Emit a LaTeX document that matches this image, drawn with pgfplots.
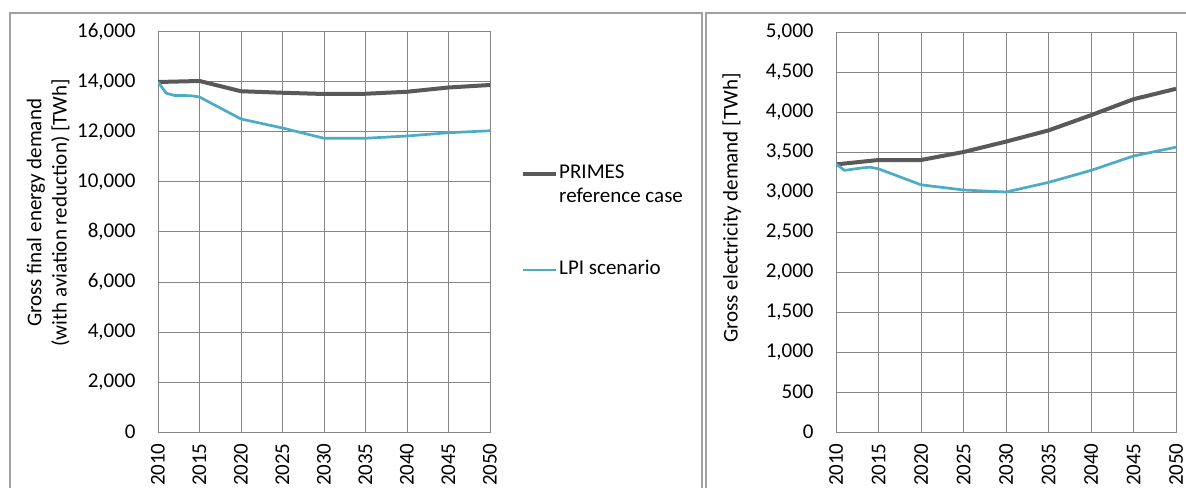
\documentclass[border=0pt]{standalone}
\usepackage{pgfplots}
\pgfplotsset{compat=1.18}
\usepackage{fontspec}
\setmainfont{Carlito}

\definecolor{gridgray}{RGB}{134,134,134}
\definecolor{framegray}{RGB}{160,160,160}
\definecolor{primes}{RGB}{89,89,89}
\definecolor{lpi}{RGB}{75,172,198}

\pgfplotsset{
  demand/.style={
    scale only axis,
    height=200pt,
    xmin=2010, xmax=2050,
    xtick distance=5,
    ymin=0,
    grid=major,
    grid style={gridgray, line width=0.5pt},
    axis line style={gridgray, line width=0.5pt},
    major tick length=0pt,
    tick style={draw=none},
    font=\fontsize{10.5}{12.6}\selectfont,
    /pgf/number format/assume math mode=true,
    scaled y ticks=false,
    yticklabel style={/pgf/number format/fixed, /pgf/number format/precision=0,
      /pgf/number format/1000 sep={,}, anchor=east, inner sep=0pt},
    xticklabel style={/pgf/number format/1000 sep=, rotate=90, anchor=east, inner sep=0pt},
    xticklabel shift=5.5pt,
    yticklabel shift=11pt,
    ylabel style={anchor=center, align=center},
  },
  primesline/.style={primes, line width=2pt, line join=round},
  lpiline/.style={lpi, line width=1.35pt, line join=round},
}

\begin{document}
\begin{tikzpicture}
\useasboundingbox (0,0) rectangle (593pt,243.5pt);
\clip (0,0) rectangle (593pt,243.5pt);

% chart frames
\draw[framegray, line width=0.6pt] (5pt,237pt) rectangle (351pt,-5pt);
\draw[framegray, line width=0.6pt] (353pt,237pt) rectangle (600pt,-5pt);

\begin{axis}[
  demand,
  at={(79pt,27.5pt)}, anchor=south west,
  width=166pt,
  ymax=16000, ytick distance=2000,
  ylabel={Gross final energy demand\\(with aviation reduction) [TWh]},
  ylabel style={at={(axis description cs:-0.331,0.548)}},
  legend style={
    at={(axis description cs:1.094,0.675)}, anchor=north west,
    draw=none, fill=none, inner sep=0pt, outer sep=0pt,
    row sep=0pt, column sep=0.5pt,
    nodes={inner sep=0pt, text height=8.5pt, text depth=3.5pt, anchor=west},
    font=\fontsize{10.5}{12.6}\selectfont,
  },
  legend image code/.code={\draw[#1] (0pt,0pt) -- (16.5pt,0pt);},
]
\addplot[primesline] coordinates {
  (2010,14000) (2015,14040) (2020,13630) (2025,13570) (2030,13520)
  (2035,13530) (2040,13610) (2045,13780) (2050,13880)
};
\addlegendentry{PRIMES}
\addlegendimage{empty legend}
\addlegendentry{reference case}
\addlegendimage{empty legend}
\addlegendentry{}
\addlegendimage{empty legend}
\addlegendentry{}
\addplot[lpiline] coordinates {
  (2010,14000) (2011,13550) (2012,13460) (2013,13460) (2014,13450)
  (2015,13400) (2020,12520) (2025,12160) (2030,11750) (2035,11750)
  (2040,11840) (2045,11970) (2050,12050)
};
\addlegendentry{LPI scenario}
\end{axis}

\begin{axis}[
  demand,
  at={(418pt,27.5pt)}, anchor=south west,
  width=170pt,
  ymax=5000, ytick distance=500,
  ylabel={Gross electricity demand [TWh]},
  ylabel style={at={(axis description cs:-0.307,0.56)}},
]
\addplot[primesline] coordinates {
  (2010,3345) (2015,3400) (2020,3400) (2025,3500) (2030,3630)
  (2035,3770) (2040,3960) (2045,4160) (2050,4290)
};
\addplot[lpiline] coordinates {
  (2010,3350) (2011,3270) (2013,3300) (2014,3310) (2015,3290)
  (2020,3090) (2025,3025) (2030,3000) (2035,3120) (2040,3270)
  (2045,3450) (2050,3560)
};
\end{axis}
\end{tikzpicture}
\end{document}
